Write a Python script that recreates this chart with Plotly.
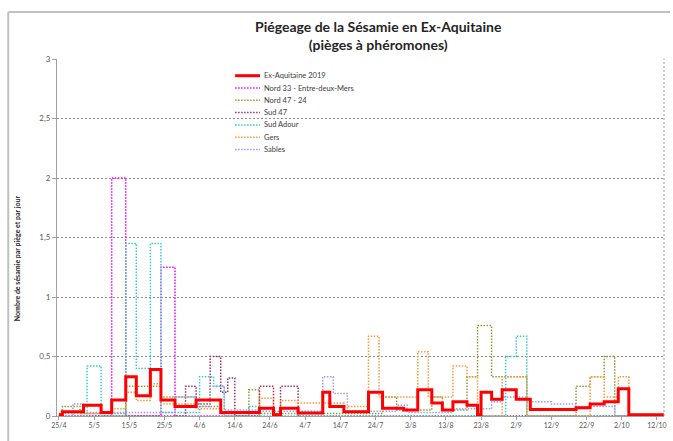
import plotly.graph_objects as go

# ---------------- data ----------------
tick_dates = ["2019-04-25", "2019-05-05", "2019-05-15", "2019-05-25", "2019-06-04", "2019-06-14",
              "2019-06-24", "2019-07-04", "2019-07-14", "2019-07-24", "2019-08-03", "2019-08-13",
              "2019-08-23", "2019-09-02", "2019-09-12", "2019-09-22", "2019-10-02", "2019-10-12"]
tick_labels = ["25/4", "5/5", "15/5", "25/5", "4/6", "14/6", "24/6", "4/7", "14/7", "24/7",
               "3/8", "13/8", "23/8", "2/9", "12/9", "22/9", "2/10", "12/10"]
y_tick_vals = [0, 0.5, 1, 1.5, 2, 2.5, 3]
y_tick_labels = ["0", "0,5", "1", "1,5", "2", "2,5", "3"]

ex_aq_dates = ["2019-04-25", "2019-04-26", "2019-05-02", "2019-05-07", "2019-05-10", "2019-05-14",
               "2019-05-17", "2019-05-21", "2019-05-24", "2019-05-28", "2019-06-03", "2019-06-10",
               "2019-06-21", "2019-06-25", "2019-06-27", "2019-07-02", "2019-07-09", "2019-07-11",
               "2019-07-15", "2019-07-22", "2019-07-26", "2019-08-01", "2019-08-05", "2019-08-09",
               "2019-08-12", "2019-08-15", "2019-08-19", "2019-08-22", "2019-08-23", "2019-08-26",
               "2019-08-29", "2019-09-02", "2019-09-06", "2019-09-19", "2019-09-23", "2019-09-27",
               "2019-10-01", "2019-10-04", "2019-10-14"]
ex_aq_vals = [0.01, 0.035, 0.09, 0.03, 0.135, 0.33, 0.17, 0.39, 0.135, 0.08, 0.135, 0.03,
              0.065, 0.01, 0.065, 0.025, 0.2, 0.08, 0.035, 0.2, 0.065, 0.05, 0.22, 0.11,
              0.05, 0.12, 0.09, 0.01, 0.2, 0.14, 0.22, 0.14, 0.055, 0.07, 0.1, 0.12,
              0.23, 0.01, 0.01]

nord33_dates = ["2019-04-25", "2019-05-10", "2019-05-14", "2019-05-24", "2019-05-28", "2019-06-20"]
nord33_vals = [0, 2.0, 0, 1.25, 0, 0]

nord4724_dates = ["2019-04-25", "2019-04-26", "2019-05-01", "2019-05-14", "2019-05-24", "2019-06-03",
                  "2019-06-10", "2019-06-18", "2019-06-21", "2019-07-26", "2019-07-30", "2019-08-09",
                  "2019-08-12", "2019-08-19", "2019-08-22", "2019-08-26", "2019-09-05", "2019-09-19",
                  "2019-09-23", "2019-09-27", "2019-09-30", "2019-10-14"]
nord4724_vals = [0, 0.08, 0.02, 0.25, 0.16, 0.08, 0.02, 0.22, 0.02, 0.16, 0.05, 0.16,
                 0.05, 0.33, 0.76, 0.33, 0, 0.25, 0.33, 0.5, 0, 0]

sud47_dates = ["2019-04-25", "2019-05-31", "2019-06-03", "2019-06-07", "2019-06-10", "2019-06-12",
               "2019-06-14", "2019-06-21", "2019-06-25", "2019-06-27", "2019-07-02", "2019-10-14"]
sud47_vals = [0, 0.25, 0.1, 0.5, 0.2, 0.32, 0, 0.25, 0, 0.25, 0, 0]

sudadour_dates = ["2019-04-25", "2019-05-03", "2019-05-07", "2019-05-14", "2019-05-17", "2019-05-21",
                  "2019-05-24", "2019-06-04", "2019-06-08", "2019-06-11", "2019-06-18", "2019-06-21",
                  "2019-08-30", "2019-09-02", "2019-09-05", "2019-10-14"]
sudadour_vals = [0, 0.42, 0, 1.45, 0.4, 1.45, 0.03, 0.33, 0.25, 0, 0.08, 0,
                 0.5, 0.67, 0, 0]

gers_dates = ["2019-04-25", "2019-05-10", "2019-05-14", "2019-05-17", "2019-05-21", "2019-05-24",
              "2019-06-03", "2019-06-10", "2019-06-21", "2019-06-25", "2019-06-27", "2019-07-02",
              "2019-07-15", "2019-07-22", "2019-07-25", "2019-08-05", "2019-08-08", "2019-08-15",
              "2019-08-19", "2019-08-22", "2019-08-29", "2019-09-05", "2019-09-23", "2019-09-27",
              "2019-10-01", "2019-10-04", "2019-10-14"]
gers_vals = [0.02, 0.06, 0.2, 0.13, 0.27, 0.1, 0.06, 0.02, 0.15, 0, 0.13, 0.11,
             0.08, 0.67, 0.16, 0.54, 0.16, 0.42, 0.33, 0, 0.33, 0, 0.33, 0.16,
             0.33, 0, 0]

sables_dates = ["2019-04-25", "2019-04-29", "2019-05-02", "2019-05-28", "2019-06-03", "2019-06-07",
                "2019-06-11", "2019-06-21", "2019-07-09", "2019-07-12", "2019-07-16", "2019-07-30",
                "2019-08-02", "2019-08-15", "2019-08-26", "2019-08-29", "2019-09-05", "2019-09-12",
                "2019-09-19", "2019-09-30", "2019-10-14"]
sables_vals = [0, 0.1, 0.03, 0.16, 0.08, 0.25, 0.05, 0.04, 0.33, 0.19, 0.04, 0.09,
               0.03, 0.06, 0.12, 0.16, 0.12, 0.1, 0.08, 0, 0]

DOT = "1.5px,1.5px"
series = [
    ("Ex-Aquitaine 2019", ex_aq_dates, ex_aq_vals, "#FF0000", "solid", 3),
    ("Nord 33 - Entre-deux-Mers", nord33_dates, nord33_vals, "#FF00FF", DOT, 1.5),
    ("Nord 47 - 24", nord4724_dates, nord4724_vals, "#999933", DOT, 1.5),
    ("Sud 47", sud47_dates, sud47_vals, "#993366", DOT, 1.5),
    ("Sud Adour", sudadour_dates, sudadour_vals, "#33CCCC", DOT, 1.5),
    ("Gers", gers_dates, gers_vals, "#FF9933", DOT, 1.5),
    ("Sables", sables_dates, sables_vals, "#9999FF", DOT, 1.5),
]

# ---------------- figure ----------------
W, H = 673, 441
L, R, T, B = 57, 6, 59, 25
pw, ph = W - L - R, H - T - B

def px_x(p):
    return (p - L) / pw

def px_y(p):
    return (H - B - p) / ph

fig = go.Figure()
# draw dotted series first, red on top
for name, d, v, c, dash, w in series[1:] + series[:1]:
    fig.add_trace(go.Scatter(x=d, y=v, mode="lines", name=name, line_shape="hv",
                             line=dict(color=c, dash=dash, width=w), showlegend=False,
                             hoverinfo="skip"))

shapes = []
annotations = []

# outer chart frame (left and top edges visible; right/bottom fall outside the picture)
shapes.append(dict(type="line", xref="paper", yref="paper",
                   x0=px_x(8), x1=px_x(8), y0=px_y(441), y1=px_y(12),
                   line=dict(color="#C0C0C0", width=2)))
shapes.append(dict(type="line", xref="paper", yref="paper",
                   x0=px_x(8), x1=px_x(673), y0=px_y(12), y1=px_y(12),
                   line=dict(color="#C0C0C0", width=2)))
# right dotted border of plot area
shapes.append(dict(type="line", xref="paper", yref="paper", x0=1, x1=1, y0=0, y1=1,
                   line=dict(color="#9A9A9A", width=1, dash="2px,2px")))

# manual legend
row_y = [75.7, 88.0, 100.3, 112.6, 124.9, 137.2, 149.5]
for (name, d, v, c, dash, w), yy in zip(series, row_y):
    shapes.append(dict(type="line", xref="paper", yref="paper",
                       x0=px_x(236), x1=px_x(261), y0=px_y(yy), y1=px_y(yy),
                       line=dict(color=c, dash=dash, width=w)))
    annotations.append(dict(xref="paper", yref="paper", x=px_x(263), y=px_y(yy),
                            xanchor="left", yanchor="middle", text=name, showarrow=False,
                            font=dict(family="Lato", size=7.5, color="#404040")))

# title
annotations.append(dict(xref="paper", yref="paper", x=px_x(380), y=px_y(35),
                        xanchor="center", yanchor="middle", showarrow=False,
                        text="<b>Piégeage de la Sésamie en Ex-Aquitaine</b><br><b>(pièges à phéromones)</b>",
                        font=dict(family="Lato", size=14, color="#262626")))
# y axis title
annotations.append(dict(xref="paper", yref="paper", x=px_x(17), y=px_y(258),
                        xanchor="center", yanchor="middle", showarrow=False, textangle=-90,
                        text="<b>Nombre de sésamie par piège et par jour</b>",
                        font=dict(family="Lato", size=7, color="#262626")))

fig.update_layout(
    width=W, height=H,
    margin=dict(l=L, r=R, t=T, b=B, pad=0),
    paper_bgcolor="white", plot_bgcolor="white",
    shapes=shapes, annotations=annotations,
    showlegend=False, hovermode=False,
    xaxis=dict(type="date", range=["2019-04-24 11:00", "2019-10-14 00:00"],
               tickmode="array", tickvals=tick_dates, ticktext=tick_labels,
               showgrid=False, zeroline=False, showline=True, linecolor="#A0A0A0", linewidth=1,
               ticks="outside", ticklen=3, tickcolor="#A0A0A0",
               tickfont=dict(family="Lato", size=7, color="#595959")),
    yaxis=dict(range=[0, 3], tickmode="array", tickvals=y_tick_vals, ticktext=y_tick_labels,
               showgrid=True, gridcolor="#8C8C8C", griddash="2px,2px", gridwidth=1,
               zeroline=False, showline=True, linecolor="#A0A0A0", linewidth=1,
               ticks="outside", ticklen=4, tickcolor="#A0A0A0",
               tickfont=dict(family="Lato", size=8, color="#595959")),
)

fig.write_html("out.html", config={"displayModeBar": False},
               post_script="document.body.style.margin='0px';")
